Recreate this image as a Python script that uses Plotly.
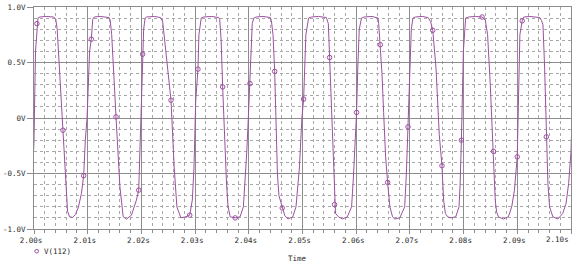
import numpy as np
import plotly.graph_objects as go

# ---- data (time in ms after 2.000 s, volts) ----
t_ms = [-0.5, 0.0, 0.28, 0.55, 0.74, 1.10, 2.21, 3.68, 4.05, 4.32, 4.60, 4.97, 5.39, 5.70, 5.98, 6.25, 6.62, 7.17, 7.72, 8.28, 8.83, 9.25, 9.56, 9.88, 10.35, 10.67, 10.94, 11.22,
        12.32, 13.98, 14.20, 14.47, 15.27, 16.00, 16.61, 17.23, 18.15, 19.07, 19.50, 19.77, 19.96, 20.23, 20.42, 20.69,
        20.97, 22.44, 23.54, 23.96, 24.59, 25.19, 25.51, 26.11, 26.61, 27.35, 28.27, 29.00, 29.48, 29.79, 30.11, 30.53, 30.71, 31.14,
        31.63, 33.11, 34.39, 34.58, 34.85, 35.13, 35.50, 35.86, 36.14, 36.54, 37.46, 38.38, 38.99, 39.30, 39.63, 39.91, 40.22, 40.42, 40.64, 40.92,
        41.38, 42.67, 44.00, 44.20, 44.51, 44.82, 45.06, 45.33, 45.61, 46.22, 46.72, 47.27, 48.19, 48.79, 49.42, 49.89, 50.21, 50.63, 51.13,
        51.68, 52.97, 54.44, 54.81, 55.05, 55.51, 55.97, 56.15, 56.69, 57.43, 58.35, 59.14, 59.46, 59.73, 60.07, 60.29, 60.57, 60.99,
        61.49, 62.96, 64.06, 64.19, 64.49, 64.80, 65.11, 65.48, 65.85, 66.27, 66.77, 67.19, 68.11, 69.03, 69.34, 69.65, 69.95, 70.26, 70.57,
        71.00, 72.29, 73.39, 73.85, 74.26, 74.86, 75.47, 75.97, 76.28, 76.61, 77.01, 77.62, 78.54, 79.15, 79.35, 79.59, 79.77, 79.96, 80.38,
        80.93, 82.21, 83.44, 84.05, 84.47, 84.97, 85.57, 85.89, 86.16, 86.49, 87.41, 88.33, 88.96, 89.47, 89.99, 90.17, 90.48, 90.91, 91.22,
        92.33, 94.17, 94.48, 94.78, 95.09, 95.40, 95.70, 96.01, 96.62, 97.54, 98.46, 99.08, 99.56, 100.0, 100.24]
v_112 = [-0.8, -0.2, 0.6, 0.85, 0.9, 0.91, 0.915, 0.91, 0.89, 0.8, 0.55, 0.2, -0.11, -0.4, -0.7, -0.84, -0.89, -0.895, -0.87, -0.8, -0.68, -0.52, -0.2, 0.0, 0.6, 0.71, 0.89, 0.91,
         0.915, 0.905, 0.88, 0.75, 0.01, -0.62, -0.89, -0.91, -0.875, -0.74, -0.65, -0.2, 0.2, 0.575, 0.8, 0.9,
         0.91, 0.915, 0.905, 0.87, 0.6, 0.3, 0.16, -0.45, -0.8, -0.9, -0.89, -0.875, -0.74, -0.45, 0.15, 0.44, 0.75, 0.9,
         0.91, 0.915, 0.905, 0.89, 0.7, 0.28, -0.2, -0.6, -0.8, -0.89, -0.9, -0.89, -0.8, -0.6, -0.3, 0.0, 0.31, 0.65, 0.85, 0.9,
         0.91, 0.915, 0.905, 0.88, 0.75, 0.42, 0.0, -0.5, -0.7, -0.81, -0.88, -0.91, -0.89, -0.8, -0.45, 0.0, 0.17, 0.75, 0.9,
         0.91, 0.915, 0.905, 0.85, 0.545, -0.1, -0.78, -0.86, -0.89, -0.91, -0.89, -0.8, -0.55, -0.25, 0.05, 0.45, 0.8, 0.9,
         0.91, 0.915, 0.9, 0.85, 0.66, 0.4, 0.05, -0.35, -0.58, -0.8, -0.89, -0.91, -0.9, -0.8, -0.5, -0.08, 0.45, 0.8, 0.9,
         0.91, 0.915, 0.905, 0.87, 0.79, 0.45, -0.15, -0.43, -0.74, -0.86, -0.89, -0.9, -0.89, -0.8, -0.6, -0.2, 0.15, 0.6, 0.9,
         0.91, 0.915, 0.91, 0.88, 0.75, 0.3, -0.3, -0.74, -0.85, -0.89, -0.91, -0.89, -0.8, -0.65, -0.35, 0.15, 0.75, 0.875, 0.91,
         0.915, 0.905, 0.88, 0.84, 0.45, -0.17, -0.59, -0.8, -0.89, -0.91, -0.86, -0.77, -0.59, -0.3, 0.1]

marker_t_ms = [0.55, 5.39, 9.25, 10.67, 15.27, 19.50, 20.23, 25.51, 29.00, 30.53, 35.13, 37.46, 40.22, 44.82, 46.22,
               50.21, 55.05, 55.97, 60.07, 64.49, 65.85, 69.65, 74.26, 75.97, 79.59, 83.44, 85.57, 89.99, 90.91, 95.40]
marker_v = [0.85, -0.11, -0.52, 0.71, 0.01, -0.65, 0.575, 0.16, -0.875, 0.44, 0.28, -0.9, 0.31, 0.42, -0.81,
            0.17, 0.545, -0.78, 0.05, 0.66, -0.58, -0.08, 0.79, -0.43, -0.2, 0.91, -0.3, -0.35, 0.875, -0.17]

x_tick_vals = [2.00, 2.01, 2.02, 2.03, 2.04, 2.05, 2.06, 2.07, 2.08, 2.09, 2.10]
x_tick_text = ["2.00s", "2.01s", "2.02s", "2.03s", "2.04s", "2.05s", "2.06s", "2.07s", "2.08s", "2.09s", "2.10s"]
y_tick_vals = [-1.0, -0.5, 0.0, 0.5, 1.0]
y_tick_text = ["-1.0V", "-0.5V", "0V", "0.5V", "1.0V"]
trace_name = "V(112)"
x_title = "Time"

T0 = 2.0
t_s = T0 + np.array(t_ms) / 1000.0
mt_s = T0 + np.array(marker_t_ms) / 1000.0

TRACE = "#9c50a0"
MAJOR = "#8c8c8c"
MINOR = "#a8a8a8"
FONT = dict(family="DejaVu Sans Mono", size=7.5, color="#2a2a2a")

# the last x label is drawn right-aligned at the plot edge (as in the reference)
x_tick_text_axis = x_tick_text[:-1] + [""]

fig = go.Figure()
fig.add_trace(go.Scatter(x=t_s, y=v_112, mode="lines", line=dict(color=TRACE, width=1),
                         showlegend=False, hoverinfo="skip"))
fig.add_trace(go.Scatter(x=mt_s, y=marker_v, mode="markers",
                         marker=dict(symbol="circle-open", size=4.5, color=TRACE, line=dict(width=1, color=TRACE)),
                         showlegend=False, hoverinfo="skip"))

fig.update_layout(
    width=575, height=263,
    margin=dict(l=28, r=3, t=5, b=34),
    paper_bgcolor="white", plot_bgcolor="white",
    font=FONT,
    xaxis=dict(range=[2.0, 2.1], tickmode="array", tickvals=x_tick_vals, ticktext=x_tick_text_axis,
               showgrid=True, gridcolor=MAJOR, gridwidth=1, zeroline=False,
               showline=True, linecolor=MAJOR, linewidth=1, mirror=True,
               ticks="outside", ticklen=4, tickcolor=MAJOR, tickfont=FONT, ticklabelshift=-3,
               minor=dict(tickmode="linear", tick0=2.0, dtick=0.002, showgrid=True, gridcolor=MINOR,
                          griddash="dot", gridwidth=1, ticks="outside", ticklen=3, tickcolor=MAJOR)),
    yaxis=dict(range=[-1.0, 1.0], tickmode="array", tickvals=y_tick_vals, ticktext=y_tick_text,
               showgrid=True, gridcolor=MAJOR, gridwidth=1, zeroline=False,
               showline=True, linecolor=MAJOR, linewidth=1, mirror=True,
               ticks="outside", ticklen=6, tickcolor=MAJOR, tickfont=FONT,
               minor=dict(tickmode="linear", tick0=-1.0, dtick=0.1, showgrid=True, gridcolor=MINOR,
                          griddash="dot", gridwidth=1, ticks="", ticklen=0)),
)

fig.add_annotation(text=x_tick_text[-1], xref="paper", yref="paper", x=1.0, y=-0.047,
                   xanchor="right", yanchor="middle", showarrow=False, font=FONT)

# legend-like entry and axis title
fig.add_shape(type="circle", xref="paper", yref="paper",
              x0=0.0015, x1=0.0085, y0=-0.108, y1=-0.092,
              line=dict(color=TRACE, width=1), fillcolor="white")
fig.add_annotation(text=trace_name, xref="paper", yref="paper", x=0.014, y=-0.10,
                   xanchor="left", yanchor="middle", showarrow=False, font=FONT)
fig.add_annotation(text=x_title, xref="paper", yref="paper", x=0.49, y=-0.135,
                   xanchor="center", yanchor="middle", showarrow=False, font=FONT)

fig.write_html("out.html")
